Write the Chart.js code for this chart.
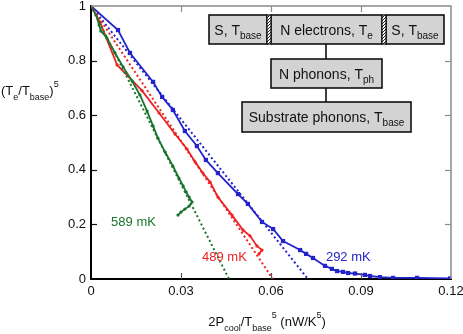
<!DOCTYPE html>
<html><head><meta charset="utf-8">
<script src="https://cdn.jsdelivr.net/npm/chart.js@4"></script>
<style>html,body{margin:0;padding:0;background:#fff}</style>
</head><body>
<canvas id="c" width="463" height="334"></canvas>
<script>
// ---- data ----
const blueX = [0, 0.009, 0.013, 0.0207, 0.0237, 0.0273, 0.0313, 0.0353, 0.0383, 0.0423, 0.049, 0.0523, 0.057, 0.0607, 0.064, 0.0697, 0.0717, 0.074, 0.078, 0.0803, 0.082, 0.084, 0.0857, 0.088, 0.0913, 0.093, 0.0963, 0.1007, 0.1087, 0.1197];
const blueY = [1, 0.912, 0.828, 0.722, 0.667, 0.619, 0.542, 0.487, 0.436, 0.388, 0.311, 0.275, 0.209, 0.183, 0.139, 0.106, 0.092, 0.077, 0.048, 0.037, 0.029, 0.026, 0.022, 0.020, 0.015, 0.011, 0.007, 0.004, 0.004, 0.002];
const redX = [0, 0.003, 0.0087, 0.017, 0.0227, 0.028, 0.032, 0.0347, 0.0373, 0.0397, 0.0423, 0.047, 0.0507, 0.053, 0.0553, 0.057, 0.056];
const redY = [1, 0.941, 0.784, 0.69, 0.608, 0.531, 0.476, 0.429, 0.388, 0.355, 0.300, 0.234, 0.179, 0.158, 0.121, 0.106, 0.092];
const greenX = [0, 0.0017, 0.0027, 0.0033, 0.0053, 0.008, 0.0107, 0.0137, 0.0163, 0.0187, 0.0207, 0.0223, 0.0247, 0.0273, 0.0293, 0.0307, 0.0317, 0.0327, 0.0337, 0.0327, 0.0313, 0.030, 0.029];
const greenY = [1, 0.967, 0.930, 0.908, 0.883, 0.828, 0.777, 0.725, 0.674, 0.615, 0.560, 0.516, 0.465, 0.414, 0.370, 0.341, 0.319, 0.300, 0.282, 0.267, 0.256, 0.245, 0.234];
// linear fits: start and x-intercept
const fitX = { green: [0, 0.046], red: [0, 0.0606], blue: [0, 0.0723] };
const fitY = [1, 0];
const xTicks = [0, 0.03, 0.06, 0.09, 0.12];
const xTickLabels = ['0', '0.03', '0.06', '0.09', '0.12'];
const yTicks = [0, 0.2, 0.4, 0.6, 0.8, 1];
const yTickLabels = ['0', '0.2', '0.4', '0.6', '0.8', '1'];
const seriesLabels = ['589 mK', '489 mK', '292 mK'];
const labelX = [0.0067, 0.037, 0.0783];
const labelY = [0.209, 0.08, 0.08];

const BLUE = '#2323cc', RED = '#ee2222', GREEN = '#18742c';
const FAM = '"Liberation Sans", Arial, Helvetica, sans-serif';
const pts = (xs, ys) => xs.map((x, i) => ({x, y: ys[i]}));

function rich(ctx, parts, x, y, align, size, subDy, supDy) {
  const small = Math.round(size * 0.68);
  const setF = p => { ctx.font = (p[1] === 'n' ? size : small) + 'px ' + FAM; };
  const widths = parts.map(p => { setF(p); return ctx.measureText(p[0]).width; });
  const total = widths.reduce((a, b) => a + b, 0);
  let cx = align === 'center' ? x - total / 2 : align === 'right' ? x - total : x;
  ctx.textAlign = 'left'; ctx.textBaseline = 'alphabetic';
  parts.forEach((p, i) => {
    setF(p);
    const dy = p[1] === 'sub' ? subDy : p[1] === 'sup' ? supDy : 0;
    ctx.fillText(p[0], cx, y + dy);
    cx += widths[i];
  });
}

const decor = {
  id: 'decor',
  afterDatasetsDraw(chart) {
    const ctx = chart.ctx, a = chart.chartArea;
    const xs = chart.scales.x, ys = chart.scales.y;
    ctx.save();
    // gray top & right frame
    ctx.strokeStyle = '#8a8a8a'; ctx.lineWidth = 1.5;
    ctx.beginPath(); ctx.moveTo(a.left, a.top); ctx.lineTo(a.right, a.top); ctx.lineTo(a.right, a.bottom); ctx.stroke();
    // inward ticks
    ctx.lineWidth = 1.2;
    xTicks.forEach(v => {
      const px = Math.round(xs.getPixelForValue(v)) + 0.5;
      if (v > 0 && v < 0.12) {
        ctx.strokeStyle = '#555'; ctx.beginPath(); ctx.moveTo(px, a.bottom); ctx.lineTo(px, a.bottom - 6); ctx.stroke();
        ctx.strokeStyle = '#8a8a8a'; ctx.beginPath(); ctx.moveTo(px, a.top); ctx.lineTo(px, a.top + 6); ctx.stroke();
      }
    });
    yTicks.forEach(v => {
      const py = Math.round(ys.getPixelForValue(v)) + 0.5;
      if (v > 0 && v < 1) {
        ctx.strokeStyle = '#111'; ctx.beginPath(); ctx.moveTo(a.left, py); ctx.lineTo(a.left + 6, py); ctx.stroke();
        ctx.strokeStyle = '#8a8a8a'; ctx.beginPath(); ctx.moveTo(a.right, py); ctx.lineTo(a.right - 6, py); ctx.stroke();
      }
    });
    // series labels
    const cols = [GREEN, RED, BLUE];
    ctx.font = '13px ' + FAM; ctx.textAlign = 'left'; ctx.textBaseline = 'middle';
    seriesLabels.forEach((t, i) => {
      ctx.fillStyle = cols[i];
      ctx.fillText(t, xs.getPixelForValue(labelX[i]), ys.getPixelForValue(labelY[i]));
    });
    // axis titles
    ctx.fillStyle = '#111';
    rich(ctx, [['(T','n'],['e','sub'],['/T','n'],['base','sub'],[')','n'],['5','sup']], 1, 95, 'left', 13, 5, -8);
    rich(ctx, [['2P','n'],['cool','sub'],['/T','n'],['base','sub'],['5','sup'],[' (nW/K','n'],['5','sup'],[')','n']], 267, 326, 'center', 13, 5, -8);
    // diagram
    const box = (x0, y0, x1, y1) => {
      ctx.fillStyle = '#d3d3d3'; ctx.fillRect(x0, y0, x1 - x0, y1 - y0);
      ctx.strokeStyle = '#111'; ctx.lineWidth = 1.6; ctx.strokeRect(x0, y0, x1 - x0, y1 - y0);
    };
    const hatch = (x0, y0, x1, y1) => {
      ctx.fillStyle = '#fff'; ctx.fillRect(x0, y0, x1 - x0, y1 - y0);
      ctx.save(); ctx.beginPath(); ctx.rect(x0, y0, x1 - x0, y1 - y0); ctx.clip();
      ctx.strokeStyle = '#222'; ctx.lineWidth = 1;
      for (let k = y0 - 10; k < y1 + 10; k += 3) { ctx.beginPath(); ctx.moveTo(x0, k + 4); ctx.lineTo(x1, k); ctx.stroke(); }
      ctx.restore();
      ctx.strokeStyle = '#111'; ctx.lineWidth = 1.2; ctx.strokeRect(x0, y0, x1 - x0, y1 - y0);
    };
    ctx.strokeStyle = '#111'; ctx.lineWidth = 1.6;
    ctx.beginPath(); ctx.moveTo(326, 44); ctx.lineTo(326, 59); ctx.moveTo(326, 88); ctx.lineTo(326, 102); ctx.stroke();
    box(209, 15, 267, 44); box(271, 15, 382, 44); box(386, 15, 444, 44);
    hatch(267, 15, 271, 44); hatch(382, 15, 386, 44);
    box(271, 59, 382, 88); box(242, 102, 411, 132);
    ctx.fillStyle = '#111';
    rich(ctx, [['S, T','n'],['base','sub']], 238, 35, 'center', 14, 3.5, -8);
    rich(ctx, [['N electrons, T','n'],['e','sub']], 326.5, 35, 'center', 14, 3.5, -8);
    rich(ctx, [['S, T','n'],['base','sub']], 415, 35, 'center', 14, 3.5, -8);
    rich(ctx, [['N phonons, T','n'],['ph','sub']], 326.5, 79, 'center', 14, 3.5, -8);
    rich(ctx, [['Substrate phonons, T','n'],['base','sub']], 326.5, 122, 'center', 14, 3.5, -8);
    ctx.restore();
  }
};

const solid = (data, color, style, r) => ({
  data, borderColor: color, backgroundColor: color, borderWidth: 1.8, showLine: true,
  pointStyle: style, pointRadius: r, pointBorderWidth: 0, tension: 0
});
const dotted = (data, color) => ({
  data, borderColor: color, borderWidth: 2, borderDash: [2, 2.6], showLine: true, pointRadius: 0, tension: 0
});

new Chart(document.getElementById('c'), {
  type: 'scatter',
  data: {
    datasets: [
      dotted(pts(fitX.green, fitY), GREEN),
      dotted(pts(fitX.red, fitY), RED),
      dotted(pts(fitX.blue, fitY), BLUE),
      solid(pts(greenX, greenY), GREEN, 'circle', 1.6),
      solid(pts(redX, redY), RED, 'circle', 1.6),
      solid(pts(blueX, blueY), BLUE, 'rect', 3)
    ]
  },
  plugins: [decor],
  options: {
    responsive: false, animation: false, devicePixelRatio: 1,
    layout: { padding: { top: 6, right: 12, left: 0, bottom: 0 } },
    plugins: { legend: { display: false }, tooltip: { enabled: false } },
    scales: {
      x: {
        type: 'linear', min: 0, max: 0.12,
        afterBuildTicks: s => { s.ticks = xTicks.map(v => ({value: v})); },
        afterFit: s => { s.height = 55; s.paddingLeft = 0; s.paddingRight = 0; },
        grid: { display: false, drawTicks: false },
        border: { display: true, color: '#000', width: 2 },
        ticks: { padding: 6, color: '#111', font: { family: FAM, size: 13, lineHeight: 1 }, maxRotation: 0,
                 callback: (v, i) => xTickLabels[i] }
      },
      y: {
        type: 'linear', min: 0, max: 1,
        afterBuildTicks: s => { s.ticks = yTicks.map(v => ({value: v})); },
        afterFit: s => { s.width = 91; s.paddingTop = 0; s.paddingBottom = 0; },
        grid: { display: false, drawTicks: false },
        border: { display: true, color: '#000', width: 2 },
        ticks: { padding: 5, color: '#111', font: { family: FAM, size: 13, lineHeight: 1 },
                 callback: (v, i) => yTickLabels[i] }
      }
    }
  }
});
</script>
</body></html>
